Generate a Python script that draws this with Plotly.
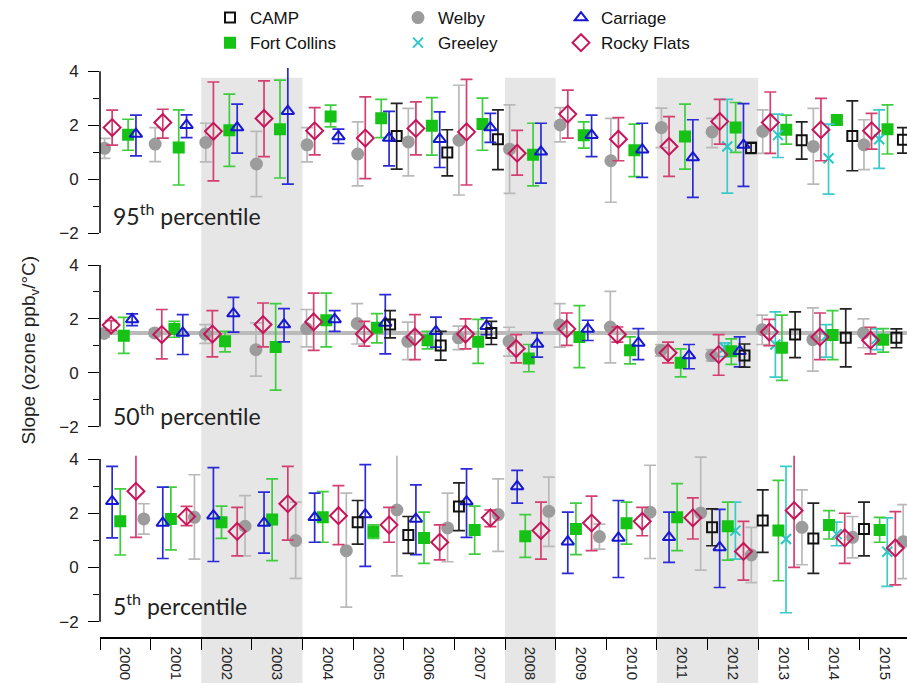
import plotly.graph_objects as go

N = None
YEARS = list(range(2000, 2016))
SITES = ["CAMP", "Fort Collins", "Welby", "Greeley", "Carriage", "Rocky Flats"]
PANEL_LABELS = ["95<sup>th</sup> percentile", "50<sup>th</sup> percentile", "5<sup>th</sup> percentile"]
SHADED_YEARS = [(2002, 2003), (2008, 2008), (2011, 2012)]
MEAN_P50 = 1.48

# ---------------- 95th percentile ----------------
CAMP_P95    = [N, N, N, N, N, 1.60, 0.99, 1.48, N, N, N, N, 1.15, 1.44, 1.60, 1.46]
CAMP_P95_LO = [N, N, N, N, N, 0.37, 0.12, 0.35, N, N, N, N, 0.95, 0.74, 0.31, 0.96]
CAMP_P95_HI = [N, N, N, N, N, 2.81, 1.83, 2.57, N, N, N, N, 1.36, 2.12, 2.90, 1.91]
FC_P95    = [1.64, 1.17, 1.81, 1.85, 2.32, 2.26, 1.98, 2.04, 0.90, 1.63, 1.07, 1.58, 1.91, 1.83, 2.19, 1.85]
FC_P95_LO = [1.07, -0.22, 0.47, 0.04, 1.94, 1.54, 0.89, 1.07, -0.25, 1.15, 0.09, 0.37, 0.99, 1.30, 2.04, 0.93]
FC_P95_HI = [2.22, 2.57, 3.15, 3.67, 2.74, 2.96, 3.02, 3.00, 2.07, 2.12, 2.04, 2.78, 2.84, 2.37, 2.32, 2.75]
WELBY_P95    = [1.14, 1.30, 1.36, 0.56, 1.27, 0.93, 1.38, 1.44, 1.11, 2.01, 0.68, 1.91, 1.75, 1.77, 1.21, 1.27]
WELBY_P95_LO = [0.77, 0.65, 0.64, -0.65, 0.64, -0.25, 0.12, -0.59, -0.53, 1.38, -0.86, 1.17, 1.17, 0.95, -0.19, 0.35]
WELBY_P95_HI = [1.51, 1.91, 2.07, 1.77, 1.91, 2.12, 2.62, 3.48, 2.75, 2.65, 2.25, 2.63, 2.25, 2.57, 2.62, 2.20]
GREELEY_P95    = [N, N, N, N, N, N, N, N, N, N, N, N, 1.21, 1.63, 0.77, 1.48]
GREELEY_P95_LO = [N, N, N, N, N, N, N, N, N, N, N, N, -0.52, 0.80, -0.56, 0.40]
GREELEY_P95_HI = [N, N, N, N, N, N, N, N, N, N, N, N, 2.96, 2.41, 2.04, 2.57]
CARRIAGE_P95    = [1.67, 2.00, 1.91, 2.52, 1.58, 1.52, 1.48, 1.91, 1.01, 1.63, 1.09, 0.80, 1.26, N, N, N]
CARRIAGE_P95_LO = [0.86, 1.54, 0.96, -0.19, 1.32, 0.49, 0.43, 1.36, -0.15, 0.83, 0.06, -0.68, -0.27, N, N, N]
CARRIAGE_P95_HI = [2.37, 2.38, 2.78, 4.30, 1.85, 2.51, 2.49, 2.44, 2.07, 2.37, 2.07, 2.20, 2.80, N, N, N]
ROCKY_P95    = [1.91, 2.10, 1.77, 2.25, 1.79, 1.52, 1.88, 1.75, 0.96, 2.41, 1.48, 1.21, 2.14, 2.10, 1.83, 1.79]
ROCKY_P95_LO = [1.26, 1.52, -0.07, 0.83, 0.90, 0.02, 0.90, -0.22, 0.15, 1.52, 0.68, 0.10, 1.30, 0.95, 0.68, 1.11]
ROCKY_P95_HI = [2.56, 2.59, 3.60, 3.64, 2.65, 3.05, 2.86, 3.70, 1.81, 3.30, 2.28, 2.32, 2.96, 3.23, 2.99, 2.44]

# ---------------- 50th percentile ----------------
CAMP_P50    = [N, N, N, N, N, 1.79, 1.01, 1.48, N, N, N, N, 0.64, 1.42, 1.30, 1.30]
CAMP_P50_LO = [N, N, N, N, N, 1.30, 0.47, 1.05, N, N, N, N, 0.21, 0.56, 0.22, 0.93]
CAMP_P50_HI = [N, N, N, N, N, 2.31, 1.54, 1.91, N, N, N, N, 1.07, 2.26, 2.37, 1.63]
FC_P50    = [1.38, 1.63, 1.17, 0.96, 1.95, 1.67, 1.21, 1.15, 0.53, 1.33, 0.84, 0.37, 0.80, 0.93, 1.40, 1.23]
FC_P50_LO = [0.72, 1.32, 0.78, -0.64, 0.96, 1.11, 0.89, 0.35, 0.04, 0.19, 0.33, -0.15, 0.31, -0.28, 0.49, 0.77]
FC_P50_HI = [2.06, 1.91, 1.54, 2.57, 2.96, 2.20, 1.54, 1.98, 1.05, 2.49, 1.33, 0.89, 1.26, 2.14, 2.31, 1.64]
WELBY_P50    = [1.46, 1.48, 1.44, 0.86, 1.64, 1.83, 1.17, 1.30, 1.17, 1.77, 1.70, 0.83, 0.64, 1.60, 1.23, 1.48]
WELBY_P50_LO = [1.33, 1.36, 1.09, -0.12, 0.96, 1.07, 0.49, 0.86, 0.62, 0.95, 0.37, 0.62, 0.43, 1.05, 0.06, 0.93]
WELBY_P50_HI = [1.60, 1.60, 1.79, 1.85, 2.35, 2.57, 1.88, 1.73, 1.69, 2.57, 3.02, 1.05, 0.86, 2.14, 2.41, 2.00]
GREELEY_P50    = [N, N, N, N, N, N, N, N, N, N, N, N, 0.93, 1.05, 1.36, 1.26]
GREELEY_P50_LO = [N, N, N, N, N, N, N, N, N, N, N, N, 0.60, -0.16, 0.58, 0.86]
GREELEY_P50_HI = [N, N, N, N, N, N, N, N, N, N, N, N, 1.11, 2.26, 1.79, 1.63]
CARRIAGE_P50    = [1.98, 1.48, 2.20, 1.79, 1.98, 1.85, 1.54, 1.73, 1.07, 1.63, 1.11, 0.64, 0.80, N, N, N]
CARRIAGE_P50_LO = [1.75, 0.68, 1.51, 1.15, 1.54, 0.70, 0.95, 1.42, 0.58, 1.20, 0.49, 0.15, 0.22, N, N, N]
CARRIAGE_P50_HI = [2.19, 2.16, 2.80, 2.38, 2.31, 2.90, 2.07, 2.04, 1.48, 1.95, 1.64, 1.05, 1.33, N, N, N]
ROCKY_P50    = [1.77, 1.42, 1.44, 1.79, 1.89, 1.44, 1.33, 1.44, 0.90, 1.63, 1.42, 0.74, 0.68, 1.51, 1.33, 1.21]
ROCKY_P50_LO = [1.58, 0.52, 0.59, 0.96, 0.83, 0.99, 0.49, 0.89, 0.37, 1.02, 1.14, 0.37, -0.09, 1.01, 0.49, 0.70]
ROCKY_P50_HI = [1.94, 2.35, 2.31, 2.59, 2.96, 1.91, 2.16, 2.00, 1.42, 2.22, 1.70, 1.14, 1.42, 1.98, 2.22, 1.69]

# ---------------- 5th percentile ----------------
CAMP_P5    = [N, N, N, N, N, 1.67, 1.20, 2.25, N, N, N, N, 1.48, 1.73, 1.07, 1.42]
CAMP_P5_LO = [N, N, N, N, N, 0.86, 0.52, 1.36, N, N, N, N, 0.80, 0.56, -0.22, 0.43]
CAMP_P5_HI = [N, N, N, N, N, 2.47, 1.88, 3.12, N, N, N, N, 2.16, 2.86, 2.37, 2.41]
FC_P5    = [1.70, 1.79, 1.67, 1.77, 1.85, 1.32, 1.09, 1.38, 1.15, 1.42, 1.63, 1.85, 1.52, 1.36, 1.57, 1.38]
FC_P5_LO = [0.46, 0.65, 1.07, 0.25, 0.93, 1.07, 0.15, 0.49, 0.37, 0.47, 0.86, 0.62, 0.27, -0.49, 1.05, 0.93]
FC_P5_HI = [2.90, 2.96, 2.26, 3.27, 2.80, 1.57, 2.04, 2.26, 1.95, 2.37, 2.41, 3.09, 2.41, 3.21, 2.10, 1.85]
WELBY_P5    = [1.79, 1.85, 1.52, 0.99, 0.62, 2.12, 1.46, 1.95, 2.07, 1.14, 2.04, 2.01, 0.46, 1.48, 1.11, 0.95]
WELBY_P5_LO = [1.23, 0.31, 0.43, -0.40, -1.46, -0.31, 0.21, 0.59, 0.78, 0.68, 0.33, -0.10, -0.56, 0.10, 0.35, -0.41]
WELBY_P5_HI = [2.35, 3.42, 2.65, 2.41, 2.74, 4.30, 2.74, 3.27, 3.33, 1.60, 3.77, 4.07, 1.48, 2.86, 1.88, 2.32]
GREELEY_P5    = [N, N, N, N, N, N, N, N, N, N, N, N, 1.36, 1.05, 1.23, 0.58]
GREELEY_P5_LO = [N, N, N, N, N, N, N, N, N, N, N, N, 0.31, -1.67, 0.80, -0.70]
GREELEY_P5_HI = [N, N, N, N, N, N, N, N, N, N, N, N, 2.41, 3.73, 1.67, 1.83]
CARRIAGE_P5    = [2.44, 1.64, 1.91, 1.64, 1.85, 1.95, 1.79, 2.43, 2.99, 0.95, 1.09, 1.11, 0.74, N, N, N]
CARRIAGE_P5_LO = [1.09, 0.33, 0.22, 0.53, 0.93, 0.04, 0.47, 1.11, 2.37, -0.22, -0.37, 0.19, -0.74, N, N, N]
CARRIAGE_P5_HI = [3.73, 2.96, 3.68, 2.78, 2.74, 3.79, 3.05, 3.64, 3.58, 2.04, 2.47, 2.04, 2.14, N, N, N]
ROCKY_P5    = [2.81, 1.88, 1.33, 2.35, 1.91, 1.57, 0.93, 1.83, 1.36, 1.64, 1.70, 1.83, 0.59, 2.10, 1.09, 0.72]
ROCKY_P5_LO = [1.11, 1.54, 0.43, 1.01, 0.84, 0.93, 0.28, 1.51, 0.31, 0.62, 1.17, 1.05, -0.47, 0.00, 0.15, -0.64]
ROCKY_P5_HI = [4.30, 2.25, 2.22, 3.73, 3.02, 2.22, 1.57, 2.12, 2.41, 2.63, 2.22, 2.57, 1.70, 4.30, 2.00, 2.06]

PANEL_DATA = [
    {"CAMP": (CAMP_P95, CAMP_P95_LO, CAMP_P95_HI), "Fort Collins": (FC_P95, FC_P95_LO, FC_P95_HI),
     "Welby": (WELBY_P95, WELBY_P95_LO, WELBY_P95_HI), "Greeley": (GREELEY_P95, GREELEY_P95_LO, GREELEY_P95_HI),
     "Carriage": (CARRIAGE_P95, CARRIAGE_P95_LO, CARRIAGE_P95_HI), "Rocky Flats": (ROCKY_P95, ROCKY_P95_LO, ROCKY_P95_HI)},
    {"CAMP": (CAMP_P50, CAMP_P50_LO, CAMP_P50_HI), "Fort Collins": (FC_P50, FC_P50_LO, FC_P50_HI),
     "Welby": (WELBY_P50, WELBY_P50_LO, WELBY_P50_HI), "Greeley": (GREELEY_P50, GREELEY_P50_LO, GREELEY_P50_HI),
     "Carriage": (CARRIAGE_P50, CARRIAGE_P50_LO, CARRIAGE_P50_HI), "Rocky Flats": (ROCKY_P50, ROCKY_P50_LO, ROCKY_P50_HI)},
    {"CAMP": (CAMP_P5, CAMP_P5_LO, CAMP_P5_HI), "Fort Collins": (FC_P5, FC_P5_LO, FC_P5_HI),
     "Welby": (WELBY_P5, WELBY_P5_LO, WELBY_P5_HI), "Greeley": (GREELEY_P5, GREELEY_P5_LO, GREELEY_P5_HI),
     "Carriage": (CARRIAGE_P5, CARRIAGE_P5_LO, CARRIAGE_P5_HI), "Rocky Flats": (ROCKY_P5, ROCKY_P5_LO, ROCKY_P5_HI)},
]

# ---------------- styling (positions within a year bin, marker styles) ----------------
OFFSETS = [
    {"Welby": 0.09, "Rocky Flats": 0.24, "Greeley": 0.39, "Fort Collins": 0.555, "Carriage": 0.71, "CAMP": 0.86},
    {"Welby": 0.08, "Rocky Flats": 0.22, "Greeley": 0.34, "Fort Collins": 0.47, "Carriage": 0.635, "CAMP": 0.73},
    {"CAMP": 0.09, "Carriage": 0.24, "Fort Collins": 0.40, "Greeley": 0.55, "Rocky Flats": 0.71, "Welby": 0.865},
]
STYLE = {
    "CAMP": dict(symbol="square-open", size=10, color="#111111", err="#222222", legend="legend"),
    "Fort Collins": dict(symbol="square", size=10, color="#17c217", err="#3fcd3f", legend="legend"),
    "Welby": dict(symbol="circle", size=11, color="#9c9c9c", err="#b9b9b9", legend="legend2"),
    "Greeley": dict(symbol="x-thin-open", size=10, color="#2cc6c6", err="#3ccaca", legend="legend2"),
    "Carriage": dict(symbol="triangle-up-open", size=11, color="#1717d2", err="#2b2bd6", legend="legend3"),
    "Rocky Flats": dict(symbol="diamond-open", size=13, color="#c6145a", err="#d2406f", legend="legend3"),
}
DRAW_ORDER = ["Welby", "Greeley", "Fort Collins", "Carriage", "CAMP", "Rocky Flats"]
LEGEND_ORDER = ["CAMP", "Fort Collins", "Welby", "Greeley", "Carriage", "Rocky Flats"]
YAXES = ["y", "y2", "y3"]

fig = go.Figure()
for p, data in enumerate(PANEL_DATA):
    for site in (LEGEND_ORDER if p == 0 else DRAW_ORDER):
        vals, lo, hi = data[site]
        st = STYLE[site]
        xs, ys, ep, em = [], [], [], []
        for yr, v, l, h in zip(YEARS, vals, lo, hi):
            if v is None:
                continue
            xs.append(yr + OFFSETS[p][site])
            ys.append(v)
            ep.append(h - v)
            em.append(v - l)
        fig.add_trace(go.Scatter(
            x=xs, y=ys, mode="markers", name=site,
            xaxis="x", yaxis=YAXES[p],
            legend=st["legend"], showlegend=(p == 0),
            marker=dict(symbol=st["symbol"], size=st["size"], color=st["color"],
                        line=dict(color=st["color"], width=2)),
            error_y=dict(type="data", symmetric=False, array=ep, arrayminus=em,
                         color=st["err"], thickness=1.7, width=6),
        ))

# layout geometry
T, B = 68, 46
DOMAINS = [[0.710, 1.0], [0.3696, 0.6594], [0.0, 0.3185]]
RANGES = [[-2, 4.12], [-2, 4.12], [-2.565, 4.12]]

shapes = []
for a, b in SHADED_YEARS:
    shapes.append(dict(type="rect", xref="x", yref="paper", x0=a, x1=b + 1, y0=-0.09, y1=0.983,
                       fillcolor="#e6e6e6", line=dict(width=0), layer="below"))
shapes.append(dict(type="line", xref="paper", yref="y2", x0=0, x1=1, y0=MEAN_P50, y1=MEAN_P50,
                   line=dict(color="#bababa", width=4), layer="below"))
for ya in YAXES:
    shapes.append(dict(type="line", xref="paper", yref=ya, x0=0, x1=0, y0=-2, y1=4,
                       line=dict(color="black", width=1.5)))

annotations = []
LABEL_Y = [-1.30, -1.56, -1.37]
for p, lab in enumerate(PANEL_LABELS):
    annotations.append(dict(text=lab, xref="paper", yref=YAXES[p], x=0.014, y=LABEL_Y[p],
                            xanchor="left", yanchor="middle", showarrow=False,
                            font=dict(family="Lato, Open Sans, sans-serif", size=23, color="#222")))
annotations.append(dict(text="Slope (ozone ppb<sub>v</sub>/°C)", xref="paper", yref="paper",
                        x=-0.087, y=0.505, textangle=-90, showarrow=False,
                        xanchor="center", yanchor="middle",
                        font=dict(family="Liberation Sans, Arial, sans-serif", size=19, color="#222")))

yaxis_common = dict(anchor="x", tickvals=[-2, 0, 2, 4], ticks="outside", ticklen=11, tickwidth=1.3,
                    tickcolor="black", showline=False, showgrid=False, zeroline=False,
                    ticklabelstandoff=6,
                    minor=dict(tickvals=[-1, 1, 3], ticks="outside", ticklen=6, tickwidth=1.3, tickcolor="black"),
                    tickfont=dict(family="Liberation Sans, Arial, sans-serif", size=17, color="#222"))

legend_common = dict(orientation="v", xref="paper", yref="container", yanchor="top", y=1.0,
                     xanchor="left", bgcolor="rgba(0,0,0,0)", tracegroupgap=0, itemclick=False,
                     font=dict(family="Liberation Sans, Arial, sans-serif", size=17, color="#111"))

fig.update_layout(
    width=907, height=683,
    margin=dict(l=100, r=0, t=T, b=B, autoexpand=False),
    paper_bgcolor="white", plot_bgcolor="rgba(0,0,0,0)",
    xaxis=dict(domain=[0, 1], range=[2000, 2015.94], anchor="y3",
               tickvals=[y + 0.5 for y in YEARS], ticktext=[str(y) for y in YEARS], tickangle=90,
               ticks="outside", ticklen=5, tickcolor="rgba(0,0,0,0)",
               minor=dict(tickvals=list(range(2000, 2017)), ticks="outside", ticklen=11,
                          tickwidth=1.3, tickcolor="black"),
               showline=True, linecolor="black", linewidth=1.5, showgrid=False, zeroline=False,
               tickfont=dict(family="Liberation Sans, Arial, sans-serif", size=15, color="#222")),
    yaxis=dict(domain=DOMAINS[0], range=RANGES[0], **yaxis_common),
    yaxis2=dict(domain=DOMAINS[1], range=RANGES[1], **yaxis_common),
    yaxis3=dict(domain=DOMAINS[2], range=RANGES[2], **yaxis_common),
    shapes=shapes, annotations=annotations,
    legend=dict(x=(210 - 100) / 807, **legend_common),
    legend2=dict(x=(398 - 100) / 807, **legend_common),
    legend3=dict(x=(561 - 100) / 807, **legend_common),
)

fig.write_html("out.html", config={"displayModeBar": False},
               post_script="document.body.style.margin='0';")
